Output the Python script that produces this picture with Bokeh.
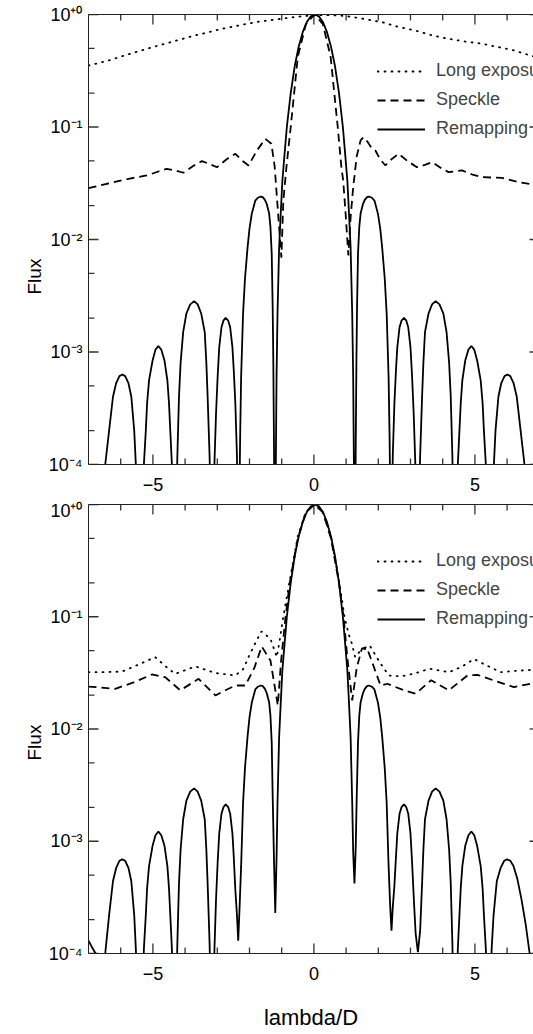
from math import pi
from bokeh.plotting import figure
from bokeh.models import (FixedTicker, LinearAxis, LogAxis, Legend, LegendItem,
                          Range1d, ColumnDataSource, Title)
from bokeh.layouts import column
from bokeh.embed import file_html
from bokeh.resources import INLINE

FONT = "Liberation Sans"

# ---------------- axes / ticks ----------------
x_lim = (-7.0, 6.82)
y_lim = (1e-4, 1.0)
y_ticks = [1e-4, 1e-3, 1e-2, 1e-1, 1.0]
y_tick_labels = ["10\u207b\u2074", "10\u207b\u00b3", "10\u207b\u00b2", "10\u207b\u00b9", "10\u207a\u2070"]
y_minor = [2e-4, 5e-4, 2e-3, 5e-3, 2e-2, 5e-2, 0.2, 0.5]
x_ticks = [-5, 0, 5]
x_tick_labels = ["\u22125", "0", "5"]
x_minor = [-6, -4, -3, -2, -1, 1, 2, 3, 4, 6]
series_names = ["Long exposure", "Speckle", "Remapping"]

# ---------------- top panel data ----------------
le_top_x = [-7.0, -6.38, -5.65, -4.93, -3.89, -2.86, -1.82, -0.79, -0.3, 0.3, 0.8, 1.08,
            1.6, 2.11, 2.6, 3.15, 3.6, 4.18, 4.7, 5.22, 5.7, 6.15, 6.83, 7.0]
le_top_y = [0.352, 0.39, 0.453, 0.52, 0.629, 0.746, 0.855, 0.934, 0.97, 0.99, 0.98, 0.96,
            0.91, 0.855, 0.78, 0.72, 0.66, 0.608, 0.575, 0.55, 0.515, 0.485, 0.423, 0.41]

sp_top_x = [-7.0, -6.43, -5.76, -5.19, -4.85, -4.57, -4.30, -4.05, -3.75, -3.48, -3.25, -3.01,
            -2.70, -2.44, -2.22, -2.03, -1.77, -1.51, -1.32, -1.22, -1.14, -1.01, -0.95, -0.85,
            -0.72, -0.50, -0.25, 0.02, 0.28, 0.52, 0.74, 0.85, 0.91, 0.985, 1.07, 1.14, 1.22,
            1.33, 1.45, 1.54, 1.65, 1.78, 1.91, 2.05, 2.22, 2.42, 2.63, 2.90, 3.20, 3.45, 3.67,
            3.90, 4.18, 4.60, 4.90, 5.22, 5.84, 6.36, 6.83, 7.0]
sp_top_y = [0.0286, 0.0313, 0.0346, 0.0371, 0.040, 0.0425, 0.041, 0.0392, 0.045, 0.0497, 0.047,
            0.0439, 0.052, 0.0578, 0.050, 0.0455, 0.0618, 0.0785, 0.071, 0.045, 0.022, 0.0069,
            0.022, 0.045, 0.10, 0.42, 0.82, 1.0, 0.82, 0.42, 0.10, 0.045, 0.0334, 0.017, 0.0072,
            0.0158, 0.029, 0.055, 0.076, 0.081, 0.075, 0.066, 0.0618, 0.052, 0.0455, 0.052, 0.0578,
            0.050, 0.0439, 0.046, 0.0487, 0.044, 0.0397, 0.0411, 0.038, 0.0358, 0.0353, 0.0323,
            0.0308, 0.030]

rm_top_x = [-7.00, -6.56, -6.48, -6.36, -6.24, -6.14, -6.04, -5.95, -5.86, -5.76, -5.67, -5.58, -5.53,
            -5.39, -5.28, -5.22, -5.18, -5.12, -5.01, -4.92, -4.83, -4.74, -4.64, -4.55, -4.50, -4.46, -4.41,
            -4.32, -4.24, -4.19, -4.14, -4.06, -3.96, -3.84, -3.72, -3.61, -3.50, -3.39, -3.34, -3.30, -3.24,
            -3.16, -3.09, -3.04, -2.99, -2.94, -2.87, -2.81, -2.74, -2.66, -2.60, -2.53, -2.49, -2.44, -2.39,
            -2.34, -2.29, -2.26, -2.20, -2.14, -2.06, -2.00, -1.93, -1.82, -1.74, -1.65, -1.59, -1.52, -1.46,
            -1.39, -1.35, -1.31, -1.28, -1.26, -1.24,
            -1.21, -1.18, -1.16, -1.13, -1.08, -1.03, -0.98, -0.91, -0.84, -0.72, -0.59, -0.47, -0.345, -0.22, -0.095,
            0.03,
            0.155, 0.28, 0.405, 0.53, 0.65, 0.78, 0.90, 0.97, 1.04, 1.09, 1.14, 1.19, 1.22, 1.24, 1.27,
            1.30, 1.32, 1.34, 1.37, 1.41, 1.45, 1.52, 1.58, 1.65, 1.71, 1.80, 1.88, 1.99, 2.06, 2.12, 2.20,
            2.26, 2.32, 2.35, 2.40,
            2.45, 2.50, 2.55, 2.59, 2.66, 2.72, 2.80, 2.87, 2.93, 3.00, 3.05, 3.10, 3.15, 3.22,
            3.30, 3.36, 3.40, 3.45, 3.56, 3.67, 3.78, 3.90, 4.02, 4.12, 4.20, 4.25, 4.30, 4.38,
            4.47, 4.52, 4.56, 4.61, 4.70, 4.80, 4.89, 4.98, 5.07, 5.18, 5.24, 5.28, 5.34, 5.45,
            5.59, 5.64, 5.73, 5.82, 5.92, 6.01, 6.10, 6.20, 6.30, 6.42, 6.54, 6.62, 7.00]
rm_top_y = [1e-5, 1e-5, 1e-4, 2e-4, 4e-4, 5.3e-4, 6.1e-4, 6.3e-4, 6.1e-4, 5.3e-4, 4e-4, 2e-4, 1e-4,
            1e-5, 1e-4, 2e-4, 3.5e-4, 5.6e-4, 8.4e-4, 1.05e-3, 1.13e-3, 1.05e-3, 8.4e-4, 5.6e-4, 3.5e-4, 2e-4, 1e-4,
            1e-5, 1.2e-4, 4e-4, 8e-4, 1.5e-3, 2.2e-3, 2.65e-3, 2.83e-3, 2.65e-3, 2.2e-3, 1.5e-3, 8e-4, 4e-4, 1.2e-4,
            1e-5, 1e-4, 2.8e-4, 6e-4, 1.1e-3, 1.66e-3, 1.9e-3, 2.01e-3, 1.9e-3, 1.66e-3, 1.1e-3, 7e-4, 3.5e-4, 1.2e-4,
            1e-5, 1.8e-4, 6e-4, 2.2e-3, 4.5e-3, 8.5e-3, 0.0125, 0.0169, 0.0222, 0.0235, 0.0241, 0.0238, 0.0225, 0.0205,
            0.017, 0.013, 7.5e-3, 2.5e-3, 8e-4, 1.5e-4,
            1e-5, 1.2e-4, 6e-4, 2.2e-3, 8.5e-3, 0.017, 0.033, 0.058, 0.10, 0.20, 0.354, 0.52, 0.70, 0.857, 0.962,
            1.0,
            0.962, 0.857, 0.70, 0.52, 0.354, 0.20, 0.10, 0.058, 0.033, 0.017, 8.5e-3, 2.2e-3, 6e-4, 1.2e-4, 1e-5,
            1.5e-4, 8e-4, 2.5e-3, 7.5e-3, 0.013, 0.017, 0.0205, 0.0225, 0.0238, 0.0241, 0.0235, 0.0222, 0.0169,
            0.0125, 8.5e-3, 4.5e-3, 2.2e-3, 6e-4, 1.8e-4, 1e-5,
            1.2e-4, 3.5e-4, 7e-4, 1.1e-3, 1.66e-3, 1.9e-3, 2.01e-3, 1.9e-3, 1.66e-3, 1.1e-3, 6e-4, 2.8e-4, 1e-4, 1e-5,
            1.2e-4, 4e-4, 8e-4, 1.5e-3, 2.2e-3, 2.65e-3, 2.83e-3, 2.65e-3, 2.2e-3, 1.5e-3, 8e-4, 4e-4, 1.2e-4, 1e-5,
            1e-4, 2e-4, 3.5e-4, 5.6e-4, 8.4e-4, 1.05e-3, 1.13e-3, 1.05e-3, 8.4e-4, 5.6e-4, 3.5e-4, 2e-4, 1e-4, 1e-5,
            1e-4, 2e-4, 4e-4, 5.3e-4, 6.1e-4, 6.3e-4, 6.1e-4, 5.3e-4, 4e-4, 2e-4, 1e-4, 1e-5, 1e-5]

# ---------------- bottom panel data ----------------
le_bot_x = [-7.0, -6.5, -5.96, -5.4, -4.93, -4.6, -4.31, -3.68, -3.06, -2.44, -2.2, -2.03, -1.80,
            -1.63, -1.35, -1.15, -1.05, -0.95, -0.75, -0.50, -0.25, 0.02, 0.28, 0.53, 0.78, 0.95,
            1.08, 1.18, 1.28, 1.45, 1.60, 1.75, 2.01, 2.32, 2.69, 3.09, 3.59, 4.20, 4.60, 4.97,
            5.35, 5.80, 6.30, 6.83, 7.0]
le_bot_y = [0.0321, 0.0321, 0.0325, 0.038, 0.0437, 0.036, 0.031, 0.0361, 0.0315, 0.030, 0.034,
            0.0437, 0.060, 0.074, 0.0637, 0.0437, 0.065, 0.10, 0.21, 0.52, 0.86, 1.0, 0.86, 0.52,
            0.21, 0.10, 0.07, 0.0575, 0.0437, 0.050, 0.0519, 0.0544, 0.0408, 0.030, 0.0294, 0.031,
            0.0344, 0.0321, 0.036, 0.042, 0.037, 0.0321, 0.033, 0.0337, 0.034]

sp_bot_x = [-7.0, -6.17, -5.6, -5.03, -4.62, -4.15, -3.58, -3.06, -2.70, -2.44, -2.13, -1.85, -1.62,
            -1.35, -1.12, -1.02, -0.88, -0.75, -0.50, -0.25, 0.02, 0.28, 0.53, 0.78, 0.92, 1.05,
            1.19, 1.33, 1.49, 1.64, 1.80, 2.07, 2.28, 2.80, 3.16, 3.64, 4.19, 4.77, 5.08, 5.6,
            6.21, 6.73, 7.0]
sp_bot_y = [0.0239, 0.0228, 0.026, 0.0306, 0.029, 0.0221, 0.028, 0.0199, 0.0225, 0.0244, 0.0244,
            0.035, 0.0544, 0.0408, 0.0162, 0.04, 0.10, 0.20, 0.50, 0.85, 1.0, 0.85, 0.50, 0.20,
            0.10, 0.04, 0.018, 0.035, 0.052, 0.0537, 0.040, 0.0244, 0.0253, 0.0221, 0.0206, 0.0272,
            0.0221, 0.030, 0.0304, 0.027, 0.0236, 0.0253, 0.026]

rm_bot_x = [-7.00, -6.90, -6.78, -6.66, -6.48, -6.36, -6.24, -6.14, -6.04, -5.95, -5.86, -5.76, -5.67, -5.58, -5.53,
            -5.39, -5.28, -5.22, -5.18, -5.12, -5.01, -4.92, -4.83, -4.74, -4.64, -4.55, -4.50, -4.46, -4.41,
            -4.32, -4.24, -4.19, -4.14, -4.06, -3.96, -3.84, -3.72, -3.61, -3.50, -3.39, -3.34, -3.30, -3.24,
            -3.16, -3.09, -3.04, -2.99, -2.94, -2.87, -2.81, -2.74, -2.66, -2.60, -2.53, -2.49, -2.44, -2.39,
            -2.35, -2.31, -2.26, -2.20, -2.14, -2.06, -2.00, -1.93, -1.82, -1.74, -1.65, -1.59, -1.52, -1.46,
            -1.39, -1.35, -1.31, -1.28, -1.24,
            -1.20, -1.16, -1.13, -1.08, -1.03, -0.98, -0.91, -0.84, -0.72, -0.59, -0.47, -0.345, -0.22, -0.095,
            0.03,
            0.155, 0.28, 0.405, 0.53, 0.65, 0.78, 0.90, 0.97, 1.04, 1.09, 1.14, 1.19, 1.22,
            1.26, 1.30, 1.33, 1.37, 1.41, 1.45, 1.52, 1.58, 1.65, 1.71, 1.80, 1.88, 1.99, 2.06, 2.12, 2.20,
            2.26, 2.32, 2.37,
            2.41, 2.45, 2.50, 2.55, 2.59, 2.66, 2.72, 2.80, 2.87, 2.93, 3.00, 3.05, 3.10, 3.16,
            3.23, 3.30, 3.36, 3.40, 3.45, 3.56, 3.67, 3.78, 3.90, 4.02, 4.12, 4.20, 4.25, 4.30, 4.38,
            4.47, 4.52, 4.56, 4.61, 4.70, 4.80, 4.89, 4.98, 5.07, 5.18, 5.24, 5.28, 5.34, 5.45,
            5.52, 5.58, 5.68, 5.80, 5.91, 6.00, 6.10, 6.20, 6.32, 6.45, 6.58, 6.70, 6.78, 7.00]
rm_bot_y = [1.3e-4, 1.15e-4, 1e-4, 1e-5, 1e-4, 2.2e-4, 4.4e-4, 5.8e-4, 6.7e-4, 6.9e-4, 6.7e-4, 5.8e-4, 4.4e-4, 2.2e-4, 1.1e-4,
            1e-5, 1.1e-4, 2.2e-4, 3.8e-4, 6e-4, 9.1e-4, 1.13e-3, 1.22e-3, 1.13e-3, 9.1e-4, 6e-4, 3.8e-4, 2.2e-4, 1.1e-4,
            1e-5, 1.25e-4, 4.2e-4, 8.4e-4, 1.57e-3, 2.3e-3, 2.77e-3, 2.96e-3, 2.77e-3, 2.3e-3, 1.57e-3, 8.4e-4, 4.2e-4, 1.25e-4,
            1e-5, 1.06e-4, 3e-4, 6.4e-4, 1.17e-3, 1.76e-3, 2.01e-3, 2.13e-3, 2.01e-3, 1.76e-3, 1.17e-3, 7.4e-4, 3.7e-4, 2.2e-4,
            1.3e-4, 2.5e-4, 6e-4, 2.2e-3, 4.5e-3, 8.6e-3, 0.0127, 0.0171, 0.0225, 0.0238, 0.0244, 0.0241, 0.0228, 0.0207,
            0.0172, 0.0132, 7.6e-3, 2.5e-3, 7e-4,
            2.3e-4, 7e-4, 2.2e-3, 8.5e-3, 0.017, 0.033, 0.058, 0.10, 0.20, 0.354, 0.52, 0.70, 0.857, 0.962,
            1.0,
            0.962, 0.857, 0.70, 0.52, 0.354, 0.20, 0.10, 0.058, 0.033, 0.017, 8.5e-3, 2.2e-3, 8e-4,
            4.2e-4, 9e-4, 2.5e-3, 7.6e-3, 0.0132, 0.0172, 0.0207, 0.0228, 0.0241, 0.0244, 0.0238, 0.0225, 0.0171,
            0.0127, 8.6e-3, 4.5e-3, 2.2e-3, 6e-4, 2.6e-4,
            1.6e-4, 2.6e-4, 4e-4, 7.4e-4, 1.17e-3, 1.76e-3, 2.01e-3, 2.13e-3, 2.01e-3, 1.76e-3, 1.17e-3, 6.4e-4, 3.2e-4, 1.5e-4,
            1.03e-4, 1.6e-4, 4.2e-4, 8.4e-4, 1.57e-3, 2.3e-3, 2.77e-3, 2.96e-3, 2.77e-3, 2.3e-3, 1.57e-3, 8.4e-4, 4.2e-4, 1.25e-4, 1e-5,
            1.1e-4, 2.2e-4, 3.8e-4, 6e-4, 9.1e-4, 1.13e-3, 1.22e-3, 1.13e-3, 9.1e-4, 6e-4, 3.8e-4, 2.2e-4, 1.1e-4, 1e-5,
            1.1e-4, 2.2e-4, 4.4e-4, 5.8e-4, 6.7e-4, 6.9e-4, 6.7e-4, 6e-4, 4.6e-4, 3e-4, 1.8e-4, 1e-4, 1e-5, 1e-5]

for a, b in [(le_top_x, le_top_y), (sp_top_x, sp_top_y), (rm_top_x, rm_top_y),
             (le_bot_x, le_bot_y), (sp_bot_x, sp_bot_y), (rm_bot_x, rm_bot_y)]:
    assert len(a) == len(b), (len(a), len(b))

TICK_COLOR = "#333333"


def style_axis(ax, labelled=True):
    ax.axis_line_color = "#222222"
    ax.axis_line_width = 1
    ax.major_tick_in = 0
    ax.major_tick_out = 0
    ax.minor_tick_in = 0
    ax.minor_tick_out = 0
    ax.major_tick_line_color = None
    ax.minor_tick_line_color = None
    if labelled:
        ax.major_label_text_font = FONT
        ax.major_label_text_font_size = "18px"
        ax.major_label_text_color = "black"
    else:
        ax.major_label_text_font_size = "1px"
        ax.major_label_standoff = 0


def add_ticks(p):
    # inward tick marks: "dash" markers centred on the frame edge at each tick value;
    # the half that lies outside the frame is clipped away
    specs = [
        (x_ticks, [y_lim[0]] * len(x_ticks), pi / 2, 20),
        (x_minor, [y_lim[0]] * len(x_minor), pi / 2, 12),
        (x_ticks, [y_lim[1]] * len(x_ticks), pi / 2, 20),
        (x_minor, [y_lim[1]] * len(x_minor), pi / 2, 12),
        ([x_lim[0]] * len(y_ticks), y_ticks, 0, 20),
        ([x_lim[0]] * len(y_minor), y_minor, 0, 12),
        ([x_lim[1]] * len(y_ticks), y_ticks, 0, 8),
    ]
    for xs, ys, ang, size in specs:
        p.scatter(x=xs, y=ys, marker="dash", size=size, angle=ang,
                  line_color=TICK_COLOR, line_width=1.3, fill_color=None)


def make_panel(height, border_top, border_bottom, data, flux_offset, xlabel=None):
    p = figure(width=533, height=height, x_range=Range1d(*x_lim), y_range=Range1d(*y_lim),
               y_axis_type="log", x_axis_location=None, y_axis_location=None,
               output_backend="svg", toolbar_location=None,
               min_border_left=88, min_border_right=0,
               min_border_top=border_top, min_border_bottom=border_bottom)
    p.outline_line_color = None
    p.background_fill_color = None
    p.border_fill_color = "white"
    p.xgrid.visible = False
    p.ygrid.visible = False

    xt = FixedTicker(ticks=x_ticks, minor_ticks=x_minor)
    yt = FixedTicker(ticks=y_ticks, minor_ticks=y_minor)

    left = LogAxis(ticker=yt)
    style_axis(left)
    left.major_label_overrides = dict(zip(y_ticks, y_tick_labels))
    left.major_label_standoff = 6
    p.add_layout(left, "left")
    p.add_layout(Title(text="Flux", align="left", offset=flux_offset, standoff=2,
                       text_font=FONT, text_font_size="19px", text_font_style="normal",
                       text_color="black"), "left")

    below = LinearAxis(ticker=xt)
    style_axis(below)
    below.major_label_overrides = dict(zip(x_ticks, x_tick_labels))
    below.major_label_standoff = 13
    if xlabel:
        below.axis_label = xlabel
        below.axis_label_text_font = FONT
        below.axis_label_text_font_size = "22px"
        below.axis_label_text_font_style = "normal"
        below.axis_label_text_color = "black"
        below.axis_label_standoff = 22
    p.add_layout(below, "below")

    above = LinearAxis(ticker=xt)
    style_axis(above, labelled=False)
    above.major_label_overrides = {t: "" for t in x_ticks}
    p.add_layout(above, "above")

    add_ticks(p)

    (lx, ly), (sx, sy), (rx, ry) = data
    r_le = p.line(x="x", y="y", source=ColumnDataSource(dict(x=lx, y=ly)),
                  line_color="black", line_width=1.8, line_dash="1 6", line_cap="round")
    r_sp = p.line(x="x", y="y", source=ColumnDataSource(dict(x=sx, y=sy)),
                  line_color="black", line_width=1.8, line_dash="8 5")
    r_rm = p.line(x="x", y="y", source=ColumnDataSource(dict(x=rx, y=ry)),
                  line_color="black", line_width=1.8)

    frame_h = height - border_top - border_bottom
    legend = Legend(items=[LegendItem(label=series_names[0], renderers=[r_le]),
                           LegendItem(label=series_names[1], renderers=[r_sp]),
                           LegendItem(label=series_names[2], renderers=[r_rm])],
                    location=(289, frame_h - 49 - 76),
                    padding=0, margin=0, spacing=8,
                    glyph_width=48, glyph_height=20, label_height=20, label_standoff=11,
                    label_text_font=FONT, label_text_font_size="18px",
                    border_line_color=None, background_fill_alpha=0)
    p.add_layout(legend)
    return p


p1 = make_panel(500, 14, 36, [(le_top_x, le_top_y), (sp_top_x, sp_top_y), (rm_top_x, rm_top_y)],
                flux_offset=170)
p2 = make_panel(534, 4, 81, [(le_bot_x, le_bot_y), (sp_bot_x, sp_bot_y), (rm_bot_x, rm_bot_y)],
                flux_offset=193, xlabel="lambda/D")

layout = column(p1, p2, spacing=0)
open("out.html", "w").write(file_html(layout, INLINE))
